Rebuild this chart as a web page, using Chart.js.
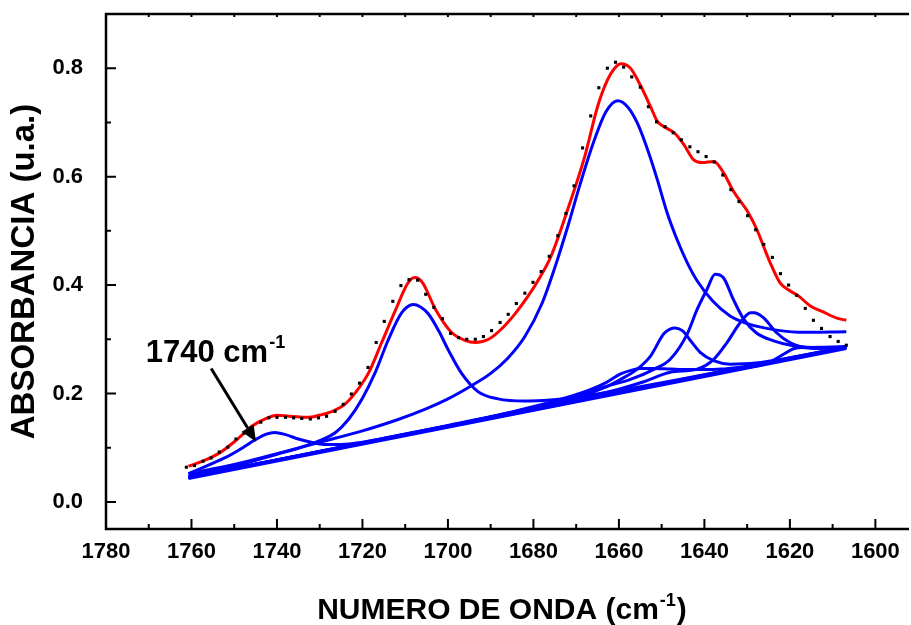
<!DOCTYPE html>
<html>
<head>
<meta charset="utf-8">
<script src="https://cdn.jsdelivr.net/npm/chart.js@4/dist/chart.umd.min.js"></script>
<style>
  html, body { margin: 0; padding: 0; background: #fff; }
  #wrap { width: 911px; height: 625px; }
</style>
</head>
<body>
<div id="wrap"><canvas id="ftirChart"></canvas></div>
<script>
// FTIR amide I deconvolution

// experimental spectrum (black dots)
const dotWn = [1761.2, 1759.3, 1757.3, 1755.4, 1753.5, 1751.5, 1749.6, 1747.7, 1745.8, 1743.8,
  1741.9, 1740.0, 1738.0, 1736.1, 1734.2, 1732.2, 1730.3, 1728.4, 1726.4, 1724.5,
  1722.6, 1720.7, 1718.7, 1716.8, 1714.9, 1712.9, 1711.0, 1709.1, 1707.1, 1705.2,
  1703.3, 1701.3, 1699.4, 1697.5, 1695.6, 1693.6, 1691.7, 1689.8, 1687.8, 1685.9,
  1684.0, 1682.0, 1680.1, 1678.2, 1676.3, 1674.3, 1672.4, 1670.5, 1668.5, 1666.6,
  1664.7, 1662.7, 1660.8, 1658.9, 1657.0, 1655.0, 1653.1, 1651.2, 1649.2, 1647.3,
  1645.4, 1643.4, 1641.5, 1639.6, 1637.7, 1635.7, 1633.8, 1631.9, 1629.9, 1628.0,
  1626.1, 1624.1, 1622.2, 1620.3, 1618.4, 1616.4, 1614.5, 1612.6, 1610.6, 1608.7, 1606.8];
const dotAbs = [0.064, 0.067, 0.075, 0.081, 0.092, 0.101, 0.116, 0.127, 0.138, 0.147,
  0.155, 0.156, 0.156, 0.155, 0.154, 0.153, 0.155, 0.158, 0.167, 0.180,
  0.199, 0.219, 0.248, 0.294, 0.333, 0.370, 0.399, 0.410, 0.409, 0.383,
  0.359, 0.338, 0.311, 0.303, 0.300, 0.300, 0.305, 0.316, 0.331, 0.346,
  0.366, 0.385, 0.405, 0.425, 0.453, 0.491, 0.532, 0.583, 0.653, 0.712,
  0.764, 0.800, 0.811, 0.802, 0.784, 0.765, 0.729, 0.701, 0.692, 0.681,
  0.668, 0.655, 0.646, 0.637, 0.627, 0.603, 0.576, 0.554, 0.528, 0.502,
  0.475, 0.451, 0.421, 0.400, 0.381, 0.357, 0.335, 0.320, 0.305, 0.296, 0.289];

// fitted sum (red)
const fitWn = [1760.7, 1757.4, 1753.5, 1749.5, 1745.8, 1742.5, 1740.0, 1737.2, 1732.5, 1729.5,
  1726.5, 1724.0, 1721.6, 1718.5, 1715.5, 1712.2, 1709.5, 1707.8, 1706.0, 1702.9,
  1699.2, 1696.0, 1693.6, 1690.5, 1687.6, 1684.5, 1681.3, 1678.5, 1675.9, 1672.0,
  1668.0, 1665.0, 1662.7, 1661.0, 1659.5, 1657.3, 1655.0, 1652.6, 1651.0, 1649.0,
  1647.1, 1644.8, 1642.5, 1640.5, 1637.8, 1635.5, 1633.2, 1629.7, 1627.7, 1626.2,
  1624.6, 1622.3, 1620.1, 1618.0, 1615.3, 1612.1, 1609.0, 1606.8];
const fitAbs = [0.066, 0.075, 0.090, 0.114, 0.140, 0.154, 0.160, 0.158, 0.156, 0.161,
  0.169, 0.181, 0.202, 0.239, 0.294, 0.355, 0.402, 0.414, 0.405, 0.355,
  0.313, 0.298, 0.294, 0.300, 0.318, 0.345, 0.379, 0.414, 0.453, 0.539,
  0.637, 0.729, 0.778, 0.800, 0.808, 0.800, 0.769, 0.729, 0.702, 0.690,
  0.681, 0.659, 0.631, 0.626, 0.628, 0.607, 0.573, 0.533, 0.502, 0.472,
  0.441, 0.404, 0.390, 0.380, 0.362, 0.350, 0.339, 0.335];

// component bands (blue), each drawn on top of the linear baseline
const baseWn = [1760.7, 1606.8];
const baseAbs = [0.043, 0.283];

const b1740Wn = [1760.7, 1756, 1752, 1748, 1745, 1742.5, 1740.5, 1738, 1735, 1732, 1729, 1725, 1720, 1712, 1700, 1606.8];
const b1740Abs = [0.052, 0.068, 0.082, 0.100, 0.115, 0.125, 0.128, 0.124, 0.116, 0.110, 0.106, 0.106, 0.110, 0.122, 0.140, 0.285];

const b1708Wn = [1760.7, 1750, 1740, 1735, 1730, 1726.3, 1723.2, 1720.1, 1717, 1713.9, 1710.8, 1708.1, 1706.5, 1704.6,
  1702.2, 1699.9, 1696.8, 1692.9, 1688.3, 1682, 1676, 1670, 1606.8];
const b1708Abs = [0.048, 0.066, 0.088, 0.099, 0.113, 0.128, 0.153, 0.190, 0.239, 0.300, 0.349, 0.364, 0.360, 0.347,
  0.316, 0.280, 0.237, 0.203, 0.190, 0.186, 0.188, 0.193, 0.286];

const b1660Wn = [1760.7, 1750, 1740, 1730, 1720, 1712, 1705, 1700, 1695, 1690, 1686, 1682, 1678, 1675, 1672, 1669,
  1666, 1663, 1660.3, 1658, 1655.7, 1653.3, 1651, 1648.7, 1646.4, 1644, 1641.7, 1638, 1634, 1630, 1626, 1618, 1606.8];
const b1660Abs = [0.052, 0.069, 0.089, 0.110, 0.131, 0.151, 0.172, 0.190, 0.212, 0.237, 0.265, 0.305, 0.366, 0.432, 0.507, 0.588,
  0.662, 0.720, 0.740, 0.729, 0.699, 0.650, 0.594, 0.533, 0.484, 0.441, 0.408, 0.370, 0.343, 0.329, 0.321, 0.313, 0.314];

const b1655Wn = [1760.7, 1700, 1685, 1675, 1667, 1663, 1659.6, 1657, 1655, 1652, 1648, 1644, 1640, 1636, 1632, 1628, 1622, 1606.8];
const b1655Abs = [0.046, 0.140, 0.166, 0.186, 0.206, 0.220, 0.236, 0.243, 0.246, 0.246, 0.245, 0.244, 0.244, 0.245, 0.248, 0.252, 0.262, 0.285];

const b1646Wn = [1760.7, 1690, 1670, 1663, 1659.6, 1655.7, 1652.6, 1649.4, 1646.8, 1645, 1643.5, 1641, 1637.7, 1634, 1628, 1606.8];
const b1646Abs = [0.045, 0.156, 0.192, 0.212, 0.226, 0.245, 0.269, 0.311, 0.321, 0.315, 0.300, 0.276, 0.260, 0.254, 0.256, 0.285];

const b1637Wn = [1760.7, 1700, 1680, 1670, 1663.4, 1657.3, 1651.7, 1648, 1644, 1641.7, 1639.4, 1637.5, 1635.5, 1633.2,
  1630.8, 1627.9, 1623.8, 1619.2, 1613, 1606.8];
const b1637Abs = [0.045, 0.141, 0.174, 0.193, 0.212, 0.226, 0.245, 0.263, 0.310, 0.355, 0.392, 0.420, 0.413, 0.373,
  0.337, 0.312, 0.297, 0.288, 0.284, 0.286];

const b1629Wn = [1760.7, 1690, 1670, 1660, 1654, 1648, 1641.7, 1637.8, 1634.7, 1631.6, 1629.2, 1628.4, 1626.2, 1623.1, 1620, 1616.1, 1606.8];
const b1629Abs = [0.045, 0.156, 0.190, 0.208, 0.222, 0.239, 0.245, 0.263, 0.294, 0.331, 0.349, 0.349, 0.340, 0.312, 0.294, 0.285, 0.286];

const b1620Wn = [1760.7, 1680, 1650, 1632, 1627, 1624.7, 1621.6, 1619, 1617, 1614, 1606.8];
const b1620Abs = [0.045, 0.170, 0.218, 0.246, 0.252, 0.258, 0.272, 0.283, 0.285, 0.283, 0.286];

// axis ticks
const xMajorTicks = [1780, 1760, 1740, 1720, 1700, 1680, 1660, 1640, 1620, 1600];
const xMinorTicks = [1770, 1750, 1730, 1710, 1690, 1670, 1650, 1630, 1610];
const yMajorTicks = [0.0, 0.2, 0.4, 0.6, 0.8];
const yMinorTicks = [0.1, 0.3, 0.5, 0.7];

const FONT = "'Liberation Sans', Arial, sans-serif";

function pts(wn, ab) {
    return wn.map((x, i) => ({ x: x, y: ab[i] }));
}

function bandSet(wn, ab) {
    return {
        data: pts(wn, ab),
        borderColor: '#0000ff',
        borderWidth: 3,
        pointRadius: 0,
        fill: false,
        cubicInterpolationMode: 'monotone',
        order: 3
    };
}

// frame, inward ticks, x title and the 1740 annotation
const decorPlugin = {
    id: 'decor',
    afterDraw(chart) {
        const ctx = chart.ctx;
        const ca = chart.chartArea;
        const xs = chart.scales.x;
        const ys = chart.scales.y;
        ctx.save();
        ctx.strokeStyle = '#000';
        ctx.lineWidth = 2.5;
        ctx.beginPath();
        ctx.moveTo(ca.right + 2, ca.top);
        ctx.lineTo(ca.left, ca.top);
        ctx.lineTo(ca.left, ca.bottom);
        ctx.lineTo(ca.right + 2, ca.bottom);
        ctx.stroke();

        ctx.lineWidth = 2;
        ctx.beginPath();
        xMajorTicks.forEach(v => {
            const px = xs.getPixelForValue(v);
            ctx.moveTo(px, ca.bottom); ctx.lineTo(px, ca.bottom - 10);
            ctx.moveTo(px, ca.top); ctx.lineTo(px, ca.top + 3);
        });
        xMinorTicks.forEach(v => {
            const px = xs.getPixelForValue(v);
            ctx.moveTo(px, ca.bottom); ctx.lineTo(px, ca.bottom - 5);
            ctx.moveTo(px, ca.top); ctx.lineTo(px, ca.top + 3);
        });
        yMajorTicks.forEach(v => {
            const py = ys.getPixelForValue(v);
            ctx.moveTo(ca.left, py); ctx.lineTo(ca.left + 10, py);
        });
        yMinorTicks.forEach(v => {
            const py = ys.getPixelForValue(v);
            ctx.moveTo(ca.left, py); ctx.lineTo(ca.left + 5, py);
        });
        ctx.stroke();

        // x axis title with superscript
        ctx.fillStyle = '#000';
        ctx.textBaseline = 'alphabetic';
        ctx.textAlign = 'left';
        const big = 'bold 30px ' + FONT;
        const small = 'bold 18px ' + FONT;
        const t1 = 'NUMERO DE ONDA (cm', t2 = '-1', t3 = ')';
        ctx.font = big; const w1 = ctx.measureText(t1).width, w3 = ctx.measureText(t3).width;
        ctx.font = small; const w2 = ctx.measureText(t2).width;
        let tx = 502 - (w1 + w2 + w3 + 2) / 2;
        const ty = 619;
        ctx.font = big; ctx.fillText(t1, tx, ty); tx += w1 + 1;
        ctx.font = small; ctx.fillText(t2, tx, ty - 13); tx += w2 + 1;
        ctx.font = big; ctx.fillText(t3, tx, ty);

        // annotation "1740 cm-1" with arrow
        const ax = xs.getPixelForValue(1770.7), ay = ys.getPixelForValue(0.258);
        ctx.font = 'bold 31px ' + FONT;
        ctx.fillText('1740 cm', ax, ay);
        const aw = ctx.measureText('1740 cm').width;
        ctx.font = 'bold 18px ' + FONT;
        ctx.fillText('-1', ax + aw + 1, ay - 14);

        const x0 = xs.getPixelForValue(1755.4), y0 = ys.getPixelForValue(0.246);
        const x1 = xs.getPixelForValue(1744.9), y1 = ys.getPixelForValue(0.111);
        const ang = Math.atan2(y1 - y0, x1 - x0);
        const hl = 16, hw = 7;
        ctx.lineWidth = 3;
        ctx.beginPath();
        ctx.moveTo(x0, y0);
        ctx.lineTo(x1 - hl * Math.cos(ang), y1 - hl * Math.sin(ang));
        ctx.stroke();
        ctx.beginPath();
        ctx.moveTo(x1, y1);
        ctx.lineTo(x1 - hl * Math.cos(ang) + hw * Math.sin(ang), y1 - hl * Math.sin(ang) - hw * Math.cos(ang));
        ctx.lineTo(x1 - hl * Math.cos(ang) - hw * Math.sin(ang), y1 - hl * Math.sin(ang) + hw * Math.cos(ang));
        ctx.closePath();
        ctx.fill();
        ctx.restore();
    }
};

document.addEventListener("DOMContentLoaded", function () {
    const ctx = document.getElementById('ftirChart');
    new Chart(ctx.getContext('2d'), {
        type: 'line',
        data: {
            datasets: [
                {
                    label: 'Experimental',
                    data: pts(dotWn, dotAbs),
                    showLine: false,
                    pointStyle: 'rect',
                    pointRadius: 2.2,
                    pointBackgroundColor: '#000',
                    pointBorderWidth: 0,
                    order: 1
                },
                {
                    label: 'Ajuste',
                    data: pts(fitWn, fitAbs),
                    borderColor: '#ff0000',
                    borderWidth: 3,
                    pointRadius: 0,
                    fill: false,
                    cubicInterpolationMode: 'monotone',
                    order: 2
                },
                bandSet(baseWn, baseAbs),
                bandSet(b1740Wn, b1740Abs),
                bandSet(b1708Wn, b1708Abs),
                bandSet(b1660Wn, b1660Abs),
                bandSet(b1655Wn, b1655Abs),
                bandSet(b1646Wn, b1646Abs),
                bandSet(b1637Wn, b1637Abs),
                bandSet(b1629Wn, b1629Abs),
                bandSet(b1620Wn, b1620Abs)
            ]
        },
        options: {
            responsive: true,
            maintainAspectRatio: false,
            animation: false,
            devicePixelRatio: 1,
            layout: { padding: { top: 14, left: 0, right: 0, bottom: 0 } },
            plugins: { legend: { display: false }, tooltip: { enabled: false } },
            scales: {
                x: {
                    type: 'linear',
                    reverse: true,
                    min: 1592.6,
                    max: 1780,
                    afterBuildTicks: s => { s.ticks = xMajorTicks.map(v => ({ value: v })); },
                    afterFit: s => { s.height = 96; s.paddingLeft = 0; s.paddingRight = 0; },
                    grid: { display: false, drawTicks: false },
                    border: { display: false },
                    ticks: {
                        autoSkip: false,
                        maxRotation: 0,
                        padding: 10,
                        color: '#000',
                        font: { family: FONT, size: 22, weight: 'bold' },
                        callback: v => String(v)
                    }
                },
                y: {
                    min: -0.05,
                    max: 0.9,
                    afterBuildTicks: s => { s.ticks = yMajorTicks.map(v => ({ value: v })); },
                    afterFit: s => { s.width = 106; s.paddingTop = 0; s.paddingBottom = 0; },
                    grid: { display: false, drawTicks: false },
                    border: { display: false },
                    ticks: {
                        padding: 23,
                        color: '#000',
                        font: { family: FONT, size: 22, weight: 'bold' },
                        callback: v => v.toFixed(1)
                    },
                    title: {
                        display: true,
                        text: 'ABSORBANCIA (u.a.)',
                        color: '#000',
                        font: { family: FONT, size: 33, weight: 'bold' },
                        padding: { top: 5, bottom: 0 }
                    }
                }
            }
        },
        plugins: [decorPlugin]
    });
});
</script>
</body>
</html>
